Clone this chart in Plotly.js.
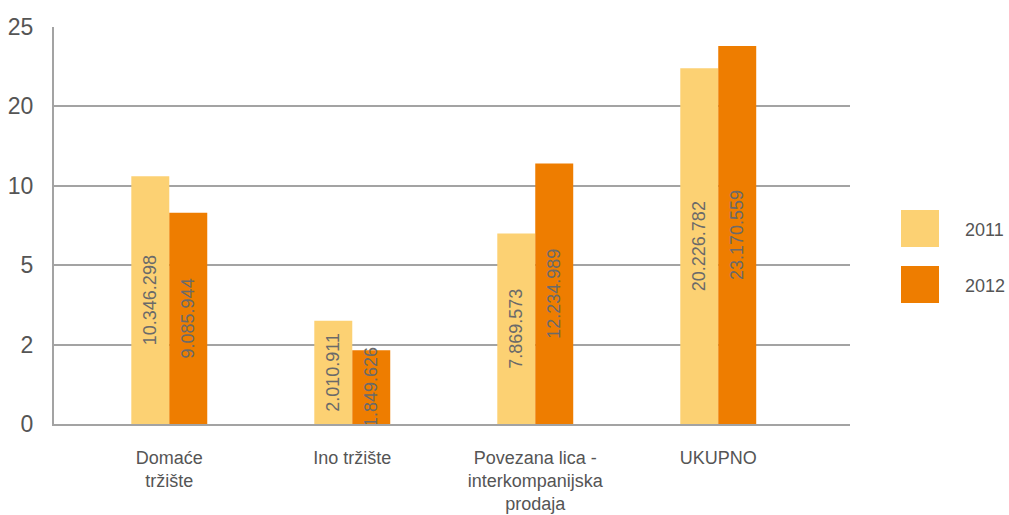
<!DOCTYPE html>
<html>
<head>
<meta charset="utf-8">
<script src="https://cdn.plot.ly/plotly-3.0.1.min.js"></script>
<style>html,body{margin:0;padding:0;background:#fff;}#chart{width:1009px;height:515px;}</style>
</head>
<body>
<div id="chart"></div>
<script>
// Categories (x axis tick labels)
const categories = ["Domaće<br>tržište", "Ino tržište", "Povezana lica -<br>interkompanijska<br>prodaja", "UKUPNO"];
// Series names
const seriesNames = ["2011", "2012"];
// Bar labels (values as printed in the chart)
const labels2011 = ["10.346.298", "2.010.911", "7.869.573", "20.226.782"];
const labels2012 = ["9.085.944", "1.849.626", "12.234.989", "23.170.559"];
// Bar heights as read against the chart's (non-linear) axis, in millions
const heights2011 = [11.2, 2.9, 7.0, 22.4];
const heights2012 = [8.3, 1.86, 12.8, 23.8];
// Y axis tick labels (evenly spaced in the original)
const yTickLabels = [0, 2, 5, 10, 20, 25];

// Piecewise scale: displayed value -> evenly spaced tick position
function toAxis(v) {
  for (let i = 0; i < yTickLabels.length - 1; i++) {
    const a = yTickLabels[i], b = yTickLabels[i + 1];
    if (v <= b) return i + (v - a) / (b - a);
  }
  return yTickLabels.length - 1;
}

const colors = ["#FCD173", "#EE7D00"];
const FONT = "'Liberation Sans', Arial, sans-serif";

const textFont = {family: FONT, size: 18, color: "#6a6a6a"};

const traces = [
  {type: "bar", name: seriesNames[0], x: categories, y: heights2011.map(toAxis),
   marker: {color: colors[0]}, text: labels2011, textposition: "inside",
   insidetextanchor: "middle", textangle: -90, constraintext: "none",
   insidetextfont: textFont, hoverinfo: "skip"},
  {type: "bar", name: seriesNames[1], x: categories, y: heights2012.map(toAxis),
   marker: {color: colors[1]}, text: labels2012, textposition: "inside",
   insidetextanchor: "middle", textangle: -90, constraintext: "none",
   insidetextfont: textFont, hoverinfo: "skip"}
];

const shapes = [];
const annotations = [];
seriesNames.forEach((n, i) => {
  const y0 = 210 + i * 56;
  shapes.push({type: "rect", xref: "paper", yref: "paper",
    x0: (901 - 54) / 796, x1: (939 - 54) / 796,
    y0: (424 - (y0 + 37)) / 397, y1: (424 - y0) / 397,
    fillcolor: colors[i], line: {width: 0}});
  annotations.push({xref: "paper", yref: "paper", x: (963 - 54) / 796, y: (424 - (y0 + 20)) / 397,
    xanchor: "left", yanchor: "middle", showarrow: false, text: n,
    font: {family: FONT, size: 18, color: "#555"}});
});

const layout = {
  width: 1009, height: 515,
  margin: {l: 54, r: 159, t: 27, b: 91},
  paper_bgcolor: "#fff", plot_bgcolor: "#fff",
  showlegend: false,
  barmode: "group", bargap: 0.585, bargroupgap: 0,
  font: {family: FONT, color: "#555"},
  xaxis: {type: "category", range: [-0.63, 3.72], showgrid: false,
    showline: true, linecolor: "#a3a3a3", linewidth: 2, ticks: "",
    ticklabelstandoff: 16,
    tickfont: {family: FONT, size: 18, color: "#555"}, fixedrange: true},
  yaxis: {range: [0, 5], tickmode: "array", tickvals: yTickLabels.map((v, i) => i),
    ticktext: yTickLabels.map(String), showgrid: true, gridcolor: "#a3a3a3", gridwidth: 2,
    showline: true, linecolor: "#a3a3a3", linewidth: 2, ticks: "", zeroline: false,
    ticklabelstandoff: 14,
    tickfont: {family: FONT, size: 23, color: "#555"}, fixedrange: true},
  shapes: shapes,
  annotations: annotations
};

Plotly.newPlot("chart", traces, layout, {displayModeBar: false, staticPlot: true});
</script>
</body>
</html>
